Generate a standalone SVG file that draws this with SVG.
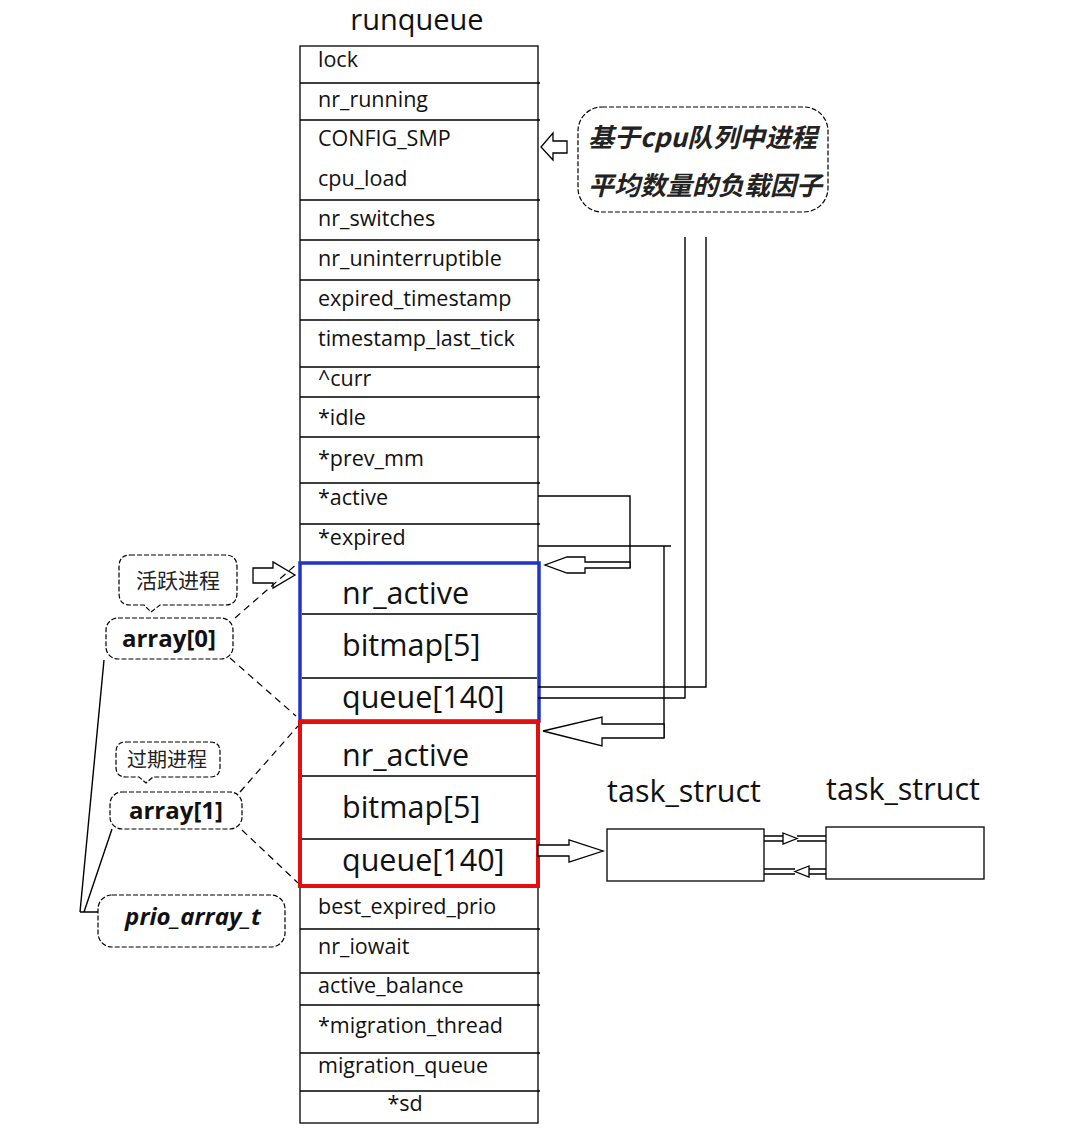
<svg xmlns="http://www.w3.org/2000/svg" width="1092" height="1131" viewBox="0 0 1092 1131">
<style>
.cell{fill:#fff;stroke:#000;stroke-width:1.3}
.sep{stroke:#000;stroke-width:1.3}
.t{font-family:"Open Sans","Noto Sans",sans-serif;font-size:21.5px;fill:#111}
.big{font-family:"Open Sans","Noto Sans",sans-serif;font-size:30.5px;fill:#111}
.ln{fill:none;stroke:#000;stroke-width:1.4}
.dash{fill:none;stroke:#000;stroke-width:1.2;stroke-dasharray:7 5}
.harrow{fill:#fff;stroke:#000;stroke-width:1.3}
.bub{fill:#fff;stroke:#000;stroke-width:1.2;stroke-dasharray:5 2}
.cjk{font-family:"Noto Sans CJK SC",sans-serif;fill:#222}
.lbl{font-family:"Open Sans","Noto Sans",sans-serif;font-weight:bold;font-size:24px;fill:#111}
</style>
<rect width="1092" height="1131" fill="#fff"/>
<text x="417" y="30" text-anchor="middle" font-family="Open Sans, Noto Sans, sans-serif" font-size="29" fill="#111">runqueue</text>
<g id="runqueue">
<rect class="cell" x="300" y="46" width="238" height="1077"/>
<path class="sep" d="M300 83H540M300 120H540M300 200H540M300 240H540M300 280H540M300 320H540M300 367H540M300 397H540M300 437H540M300 483H540M300 524H540M300 886H540M300 929H540M300 973H540M300 1005H540M300 1053H540M300 1091H540"/>
<text class="t" x="318" y="67">lock</text>
<text class="t" x="318" y="107">nr_running</text>
<text class="t" x="318" y="146">CONFIG_SMP</text>
<text class="t" x="318" y="186">cpu_load</text>
<text class="t" x="318" y="226">nr_switches</text>
<text class="t" x="318" y="266">nr_uninterruptible</text>
<text class="t" x="318" y="306">expired_timestamp</text>
<text class="t" x="318" y="346">timestamp_last_tick</text>
<text class="t" x="318" y="386">^curr</text>
<text class="t" x="318" y="425">*idle</text>
<text class="t" x="318" y="466">*prev_mm</text>
<text class="t" x="318" y="505">*active</text>
<text class="t" x="318" y="545">*expired</text>
<text class="t" x="318" y="914">best_expired_prio</text>
<text class="t" x="318" y="954">nr_iowait</text>
<text class="t" x="318" y="993">active_balance</text>
<text class="t" x="318" y="1033">*migration_thread</text>
<text class="t" x="318" y="1073">migration_queue</text>
<text class="t" x="405" y="1111" text-anchor="middle">*sd</text>
</g>
<g id="array0">
<rect x="300" y="563" width="239" height="158" fill="#fff" stroke="#2233cc" stroke-width="3.5"/>
<path class="sep" d="M302 614H537M302 678H537"/>
<text class="big" x="342" y="604">nr_active</text>
<text class="big" x="342" y="656">bitmap[5]</text>
<text class="big" x="342" y="708">queue[140]</text>
</g>
<g id="array1">
<rect x="300" y="722" width="238" height="164" fill="#fff" stroke="#e01010" stroke-width="4"/>
<path class="sep" d="M302 776H536M302 839H536"/>
<text class="big" x="342" y="766">nr_active</text>
<text class="big" x="342" y="818">bitmap[5]</text>
<text class="big" x="342" y="871">queue[140]</text>
</g>
<g id="load-note">
<rect class="bub" x="578" y="107" width="250" height="105" rx="24"/>
<text class="cjk" x="588" y="147" font-size="26" font-weight="bold" font-style="italic">基于cpu队列中进程</text>
<text class="cjk" x="588" y="195" font-size="26" font-weight="bold" font-style="italic">平均数量的负载因子</text>
</g>
<g id="active-note">
<path class="bub" d="M130 555H225Q237 555 237 567V593Q237 605 225 605H160L151 612L144 605H130Q119 605 119 593V567Q119 555 130 555Z"/>
<text class="cjk" x="178" y="588" font-size="21" text-anchor="middle">活跃进程</text>
</g>
<g id="expired-note">
<path class="bub" d="M126 742H210Q220 742 220 752V767Q220 777 210 777H153L146 783L139 777H126Q116 777 116 767V752Q116 742 126 742Z"/>
<text class="cjk" x="167" y="767" font-size="20" text-anchor="middle">过期进程</text>
</g>
<g id="array0-label">
<rect class="bub" x="106" y="618" width="127" height="41" rx="12"/>
<text class="lbl" x="169" y="647" text-anchor="middle">array[0]</text>
</g>
<g id="array1-label">
<rect class="bub" x="110" y="792" width="132" height="37" rx="12"/>
<text class="lbl" x="176" y="819" text-anchor="middle">array[1]</text>
</g>
<g id="prio-array-t">
<rect class="bub" x="98" y="895" width="187" height="52" rx="14"/>
<text class="lbl" x="193" y="925" text-anchor="middle" font-style="italic">prio_array_t</text>
</g>
<g id="task1">
<text class="big" x="684" y="802" text-anchor="middle">task_struct</text>
<rect class="cell" x="607" y="829" width="157" height="52"/>
</g>
<g id="task2">
<text class="big" x="903" y="800" text-anchor="middle">task_struct</text>
<rect class="cell" x="826" y="827" width="158" height="52"/>
</g>
<g id="connectors">
<polygon class="harrow" points="567,141 553,141 553,133 541,147 553,160 553,153 567,153"/>
<path class="ln" d="M685 237V698H538"/>
<path class="ln" d="M706 237V687H538"/>
<path class="ln" d="M538 496H630V568"/>
<polygon class="harrow" points="630,562 585,562 585,557 567,557 545,565 567,573 585,573 585,568 630,568"/>
<path class="ln" d="M538 546H671M664 546V738"/>
<polygon class="harrow" points="664,724 602,724 602,717 543,731 602,746 602,738 664,738"/>
<polygon class="harrow" points="253,568 273,568 273,562 295,575 273,588 273,583 253,583"/>
<path class="dash" d="M235 618L298 563"/>
<path class="dash" d="M230 658L296 716"/>
<path class="dash" d="M240 792L298 726"/>
<path class="dash" d="M242 830L298 883"/>
<path class="ln" d="M80 912H98M80 912L104 660M84 912L112 829"/>
<polygon class="harrow" points="538,845 569,845 569,840 603,851 569,862 569,856 538,856"/>
<path class="ln" d="M764 836H783M764 841H783M797 836H826M797 841H826"/>
<polygon class="harrow" points="783,833 797,838.5 783,844"/>
<path class="ln" d="M764 869H795M764 874H795M809 869H826M809 874H826"/>
<polygon class="harrow" points="809,866 795,871.5 809,877"/>
</g>
</svg>
